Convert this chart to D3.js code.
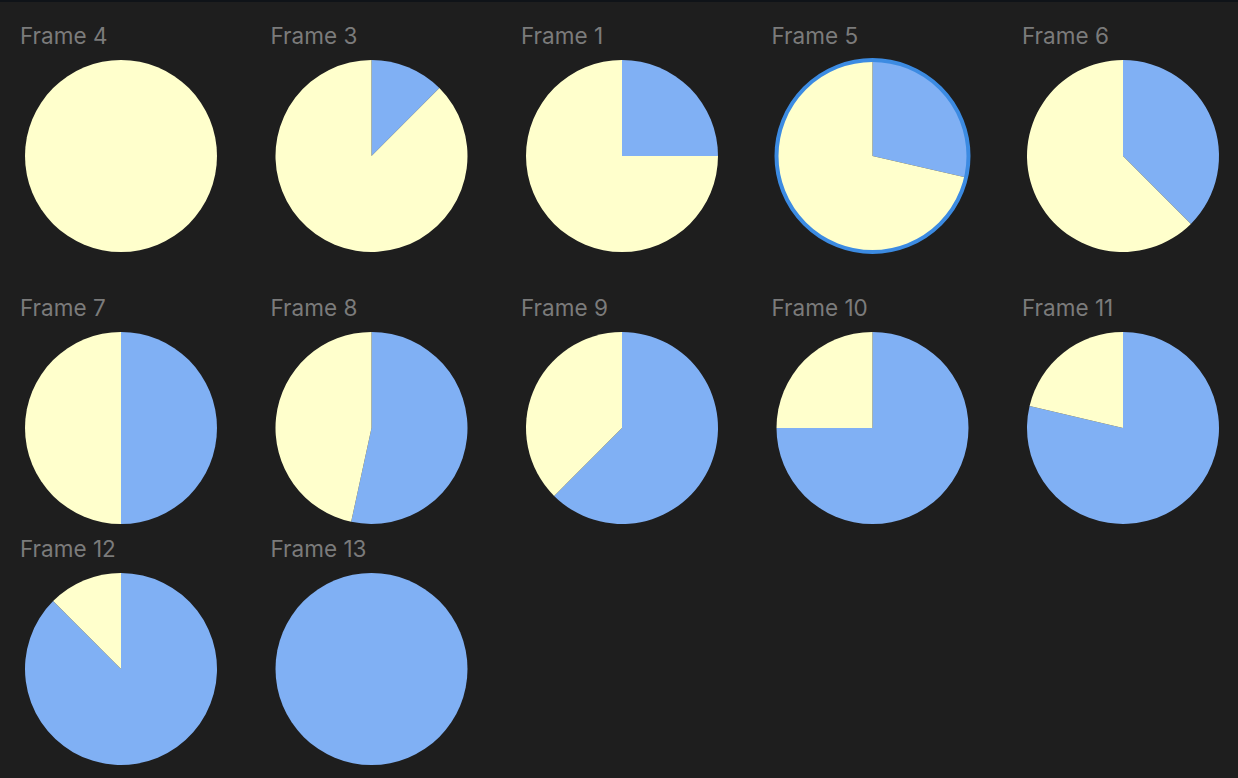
<!DOCTYPE html>
<html>
<head>
<meta charset="utf-8">
<script src="https://cdn.jsdelivr.net/npm/d3@7"></script>
<style>
  html, body { margin: 0; padding: 0; background: #1e1e1e; }
  svg { display: block; }
</style>
</head>
<body>
<div id="chart"></div>
<script>
(function () {
  'use strict';

  // frames in display order, with the share of the blue slice
  var frameNames = ['Frame 4', 'Frame 3', 'Frame 1', 'Frame 5', 'Frame 6',
                    'Frame 7', 'Frame 8', 'Frame 9', 'Frame 10', 'Frame 11',
                    'Frame 12', 'Frame 13'];
  var blueShare = [0, 0.125, 0.25, 0.286, 0.375,
                   0.5, 0.534, 0.625, 0.75, 0.787,
                   0.875, 1];
  var selectedFrame = 'Frame 5';

  var width = 1238, height = 778;
  var perRow = 5;
  var radius = 96;
  var rowCenters = [156, 428, 669];

  var svg = d3.select('#chart').append('svg')
    .attr('width', width)
    .attr('height', height);

  svg.append('rect')
    .attr('width', width).attr('height', height)
    .style('fill', '#1e1e1e');
  svg.append('rect')
    .attr('width', width).attr('height', 2)
    .style('fill', '#0f1318');

  var colX = d3.scaleLinear().domain([0, perRow - 1]).range([121, 1123]);
  var color = d3.scaleOrdinal().domain(['blue', 'yellow'])
    .range(['#80b0f4', '#ffffcc']);

  var pie = d3.pie().sort(null).value(function(d) { return d.v; });
  var arc = d3.arc().innerRadius(0).outerRadius(radius);

  var cells = svg.selectAll('g.frame')
    .data(frameNames.map(function(name, i) {
      return { name: name, share: blueShare[i], i: i };
    }))
    .enter().append('g')
    .attr('class', 'frame')
    .attr('transform', function(d) {
      return 'translate(' + colX(d.i % perRow) + ',' +
             rowCenters[Math.floor(d.i / perRow)] + ')';
    });

  cells.append('text')
    .attr('x', -radius - 5)
    .attr('y', -radius - 16)
    .attr('font-family', 'Inter, "Noto Sans", sans-serif')
    .attr('font-size', '22.5px')
    .style('fill', '#7b7b7b')
    .text(function(d) { return d.name; });

  cells.each(function(d) {
    var g = d3.select(this);
    var slices = pie([{ k: 'blue', v: d.share }, { k: 'yellow', v: 1 - d.share }])
      .filter(function(s) { return s.data.v > 0; });
    g.selectAll('path')
      .data(slices)
      .enter().append('path')
      .attr('d', arc)
      .style('fill', function(s) { return color(s.data.k); });
    if (d.name === selectedFrame) {
      g.append('circle')
        .attr('r', radius)
        .style('fill', 'none')
        .style('stroke', '#3c8be2')
        .style('stroke-width', 4);
    }
  });
})();
</script>
</body>
</html>
